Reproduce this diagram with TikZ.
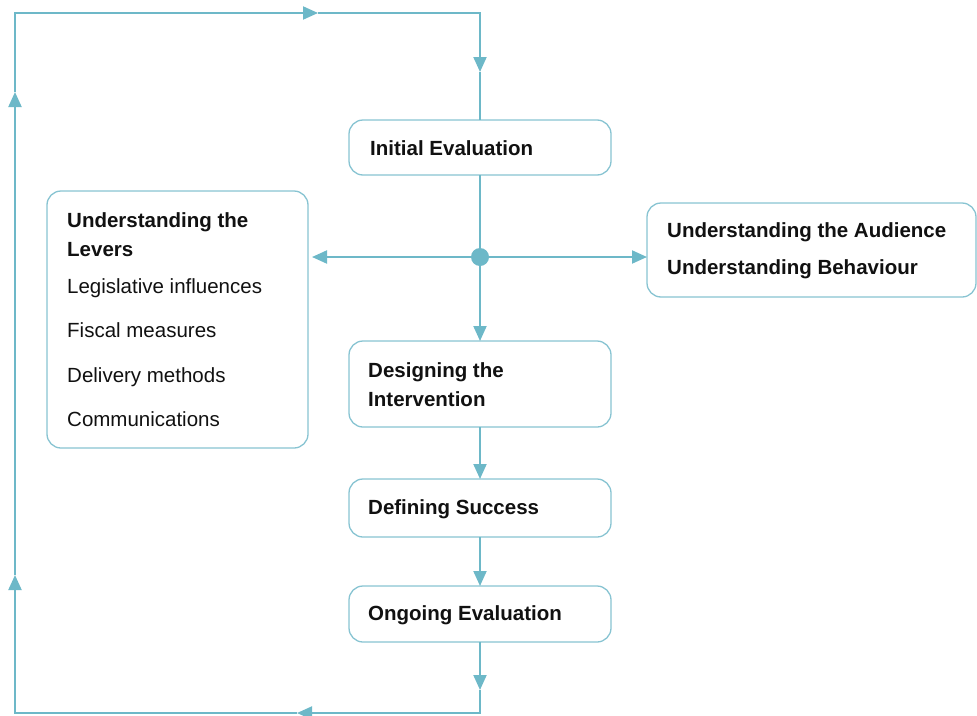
\documentclass[tikz,border=0pt]{standalone}
\usepackage{fontspec}
\setmainfont{Liberation Sans}
\usetikzlibrary{arrows.meta}
\definecolor{flowcol}{HTML}{6DB8C8}
\definecolor{boxcol}{HTML}{88C4D2}
\definecolor{inkcol}{HTML}{111111}
\tikzset{
  flow/.style={draw=flowcol, line width=2pt, line join=miter},
  tip/.style={-{Triangle[length=15pt,width=13pt]}},
  stage/.style={draw=boxcol, line width=1.3pt, rounded corners=14pt, fill=white,
    anchor=north west, inner sep=0pt, outer sep=0pt},
  head/.style={anchor=base west, inner sep=0pt, text=inkcol, font=\fontsize{20.5}{24}\selectfont\bfseries},
  item/.style={anchor=base west, inner sep=0pt, text=inkcol, font=\fontsize{20.5}{24}\selectfont},
}
\begin{document}
\begin{tikzpicture}[x=1pt,y=-1pt]
\useasboundingbox (0,0) rectangle (977,715);

% stage boxes
\node[stage, minimum width=262pt, minimum height=55pt] (init) at (349,120) {};
\node[stage, minimum width=261pt, minimum height=257pt] (levers) at (47,191) {};
\node[stage, minimum width=329pt, minimum height=94pt] (aud) at (647,203) {};
\node[stage, minimum width=262pt, minimum height=86pt] (design) at (349,341) {};
\node[stage, minimum width=262pt, minimum height=58pt] (define) at (349,479) {};
\node[stage, minimum width=262pt, minimum height=56pt] (ongoing) at (349,586) {};

% labels
\node[head] (tInit) at (370,155) {Initial Evaluation};
\node[head] (tLev1) at (67,227) {Understanding the};
\node[head] (tLev2) at (67,256) {Levers};
\node[item] (tLev3) at (67,293) {Legislative influences};
\node[item] (tLev4) at (67,337) {Fiscal measures};
\node[item] (tLev5) at (67,382) {Delivery methods};
\node[item] (tLev6) at (67,426) {Communications};
\node[head] (tAud1) at (667,237) {Understanding the Audience};
\node[head] (tAud2) at (667,274) {Understanding Behaviour};
\node[head] (tDes1) at (368,377) {Designing the};
\node[head] (tDes2) at (368,406) {Intervention};
\node[head] (tDef) at (368,514) {Defining Success};
\node[head] (tOng) at (368,620) {Ongoing Evaluation};

% hub
\node[circle, fill=flowcol, minimum size=18pt, inner sep=0pt, outer sep=0pt] (dot) at (480,257) {};

% loop corners and mid-line arrow tips
\coordinate (tl) at (15,13);
\coordinate (tr) at (480,13);
\coordinate (bl) at (15,713);
\coordinate (br) at (480,713);
\coordinate (aOut) at (480,690);
\coordinate (aBot) at (297,713);
\coordinate (aL2) at (15,575);
\coordinate (aL1) at (15,92);
\coordinate (aTop) at (318,13);
\coordinate (aIn) at (480,72);

% main spine
\draw[flow] (init.south) -- (dot.center);
\draw[flow,tip] (dot) -- (design.north);
\draw[flow,tip] (design.south) -- (define.north);
\draw[flow,tip] (define.south) -- (ongoing.north);
\draw[flow,tip,shorten >=4pt] (dot) -- (dot -| levers.east);
\draw[flow,tip] (dot) -- (dot -| aud.west);

% feedback loop
\draw[flow,tip] (ongoing.south) -- (aOut);
\draw[flow,tip] (aOut) -- (br) -- (aBot);
\draw[flow,tip] (aBot) -- (bl) -- (aL2);
\draw[flow,tip] (aL2) -- (aL1);
\draw[flow,tip] (aL1) -- (tl) -- (aTop);
\draw[flow,tip] (aTop) -- (tr) -- (aIn);
\draw[flow] (aIn) -- (init.north);
\end{tikzpicture}
\end{document}
